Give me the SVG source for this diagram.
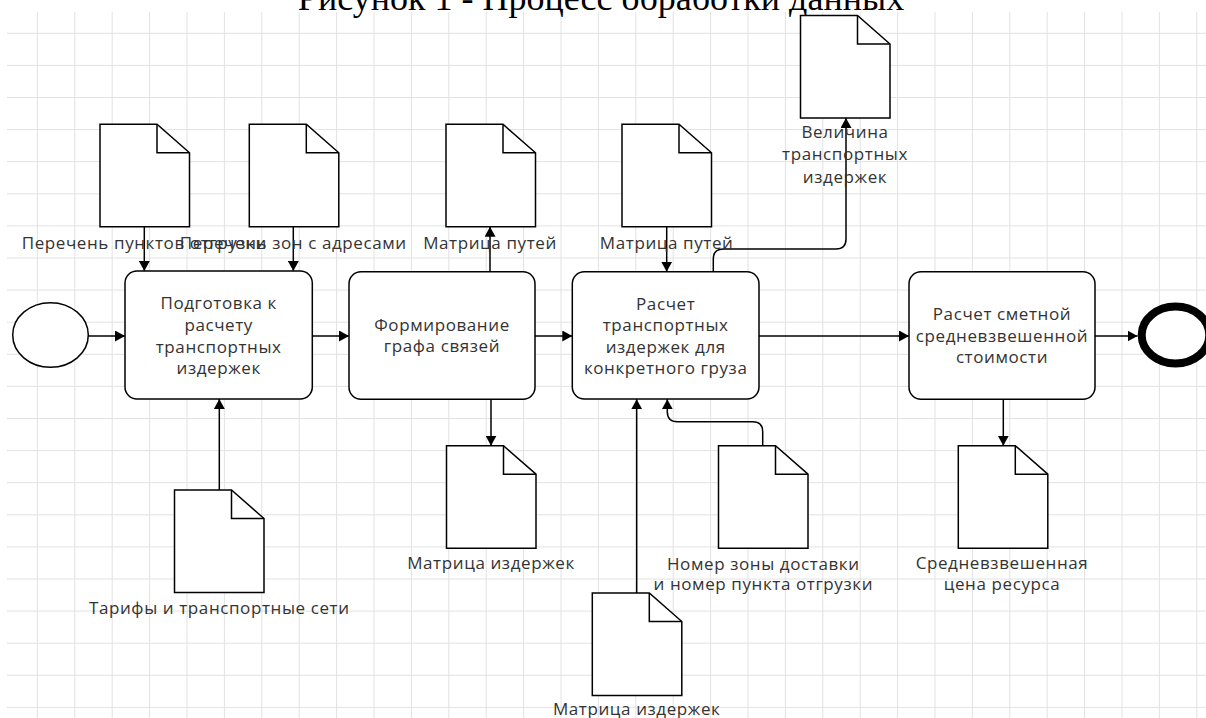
<svg xmlns="http://www.w3.org/2000/svg" width="1206" height="718" viewBox="0 0 1206 718">
<style>
.grid line{stroke:#e2e2e2;stroke-width:1}
.box{fill:#fff;stroke:#000;stroke-width:1.5}
.doc{fill:#fff;stroke:#000;stroke-width:1.5;stroke-linejoin:miter}
.fold{fill:none;stroke:#000;stroke-width:1.5}
.t{font-family:"Open Sans","Noto Sans",sans-serif;font-size:17px;letter-spacing:0.6px;fill:#333;text-anchor:middle}
.conn path{fill:none;stroke:#000;stroke-width:1.5}
.title{font-family:"Liberation Serif","Times New Roman",serif;font-size:36px;fill:#000;text-anchor:middle}
</style>
<defs>
<marker id="ah" markerUnits="userSpaceOnUse" markerWidth="11" markerHeight="11" refX="10" refY="5.5" orient="auto">
<path d="M0,0 L10,5.5 L0,11 Z" fill="#000"/>
</marker>
<symbol id="docshape" overflow="visible">
<path class="doc" d="M0,0 H57 L89.5,28.5 V102.5 H0 Z"/>
<path class="fold" d="M57,0 V28.5 H89.5"/>
</symbol>
</defs>
<rect width="1206" height="718" fill="#fff"/>
<g class="grid">
<line x1="37.4" y1="12" x2="37.4" y2="718"/><line x1="74.8" y1="12" x2="74.8" y2="718"/><line x1="112.2" y1="12" x2="112.2" y2="718"/><line x1="149.6" y1="12" x2="149.6" y2="718"/><line x1="187" y1="12" x2="187" y2="718"/><line x1="224.4" y1="12" x2="224.4" y2="718"/><line x1="261.8" y1="12" x2="261.8" y2="718"/><line x1="299.2" y1="12" x2="299.2" y2="718"/><line x1="336.6" y1="12" x2="336.6" y2="718"/><line x1="374" y1="12" x2="374" y2="718"/><line x1="411.4" y1="12" x2="411.4" y2="718"/><line x1="448.8" y1="12" x2="448.8" y2="718"/><line x1="486.2" y1="12" x2="486.2" y2="718"/><line x1="523.6" y1="12" x2="523.6" y2="718"/><line x1="561" y1="12" x2="561" y2="718"/><line x1="598.4" y1="12" x2="598.4" y2="718"/><line x1="635.8" y1="12" x2="635.8" y2="718"/><line x1="673.2" y1="12" x2="673.2" y2="718"/><line x1="710.6" y1="12" x2="710.6" y2="718"/><line x1="748" y1="12" x2="748" y2="718"/><line x1="785.4" y1="12" x2="785.4" y2="718"/><line x1="822.8" y1="12" x2="822.8" y2="718"/><line x1="860.2" y1="12" x2="860.2" y2="718"/><line x1="897.6" y1="12" x2="897.6" y2="718"/><line x1="935" y1="12" x2="935" y2="718"/><line x1="972.4" y1="12" x2="972.4" y2="718"/><line x1="1009.8" y1="12" x2="1009.8" y2="718"/><line x1="1047.2" y1="12" x2="1047.2" y2="718"/><line x1="1084.6" y1="12" x2="1084.6" y2="718"/><line x1="1122" y1="12" x2="1122" y2="718"/><line x1="1159.4" y1="12" x2="1159.4" y2="718"/><line x1="1196.8" y1="12" x2="1196.8" y2="718"/>
<line x1="7" y1="33.3" x2="1206" y2="33.3"/><line x1="7" y1="65.4" x2="1206" y2="65.4"/><line x1="7" y1="97.5" x2="1206" y2="97.5"/><line x1="7" y1="129.6" x2="1206" y2="129.6"/><line x1="7" y1="161.7" x2="1206" y2="161.7"/><line x1="7" y1="193.8" x2="1206" y2="193.8"/><line x1="7" y1="225.9" x2="1206" y2="225.9"/><line x1="7" y1="258" x2="1206" y2="258"/><line x1="7" y1="290.1" x2="1206" y2="290.1"/><line x1="7" y1="322.2" x2="1206" y2="322.2"/><line x1="7" y1="354.3" x2="1206" y2="354.3"/><line x1="7" y1="386.4" x2="1206" y2="386.4"/><line x1="7" y1="418.5" x2="1206" y2="418.5"/><line x1="7" y1="450.6" x2="1206" y2="450.6"/><line x1="7" y1="482.7" x2="1206" y2="482.7"/><line x1="7" y1="514.8" x2="1206" y2="514.8"/><line x1="7" y1="546.9" x2="1206" y2="546.9"/><line x1="7" y1="579" x2="1206" y2="579"/><line x1="7" y1="611.1" x2="1206" y2="611.1"/><line x1="7" y1="643.2" x2="1206" y2="643.2"/><line x1="7" y1="675.3" x2="1206" y2="675.3"/><line x1="7" y1="707.4" x2="1206" y2="707.4"/>
</g>
<text class="title" x="601" y="10">Рисунок 1 - Процесс обработки данных</text>

<g class="conn">
<path d="M88.3,336 H125" marker-end="url(#ah)"/>
<path d="M144.3,226.8 V271" marker-end="url(#ah)"/>
<path d="M293.3,226.8 V271" marker-end="url(#ah)"/>
<path d="M219.3,490 V399" marker-end="url(#ah)"/>
<path d="M312.3,336 H349" marker-end="url(#ah)"/>
<path d="M490,271.7 V226.8" marker-end="url(#ah)"/>
<path d="M491,399.3 V445.7" marker-end="url(#ah)"/>
<path d="M535,336 H572.3" marker-end="url(#ah)"/>
<path d="M666.7,226.8 V271.7" marker-end="url(#ah)"/>
<path d="M713.3,271.7 V259 Q713.3,249 723.3,249 H836 Q846,249 846,239 V118" marker-end="url(#ah)"/>
<path d="M636.7,593 V399.3" marker-end="url(#ah)"/>
<path d="M762.7,445.7 V431.7 Q762.7,421.7 752.7,421.7 H677.3 Q667.3,421.7 667.3,411.7 V399.3" marker-end="url(#ah)"/>
<path d="M759,336 H909" marker-end="url(#ah)"/>
<path d="M1003.3,399.3 V445.7" marker-end="url(#ah)"/>
<path d="M1095,336 H1137.5" marker-end="url(#ah)"/>
</g>

<g id="start"><ellipse cx="50.5" cy="335" rx="37.8" ry="32.3" fill="#fff" stroke="#000" stroke-width="1.5"/></g>
<g id="end"><ellipse cx="1175.5" cy="335" rx="33.8" ry="28.5" fill="#fff" stroke="#000" stroke-width="8"/></g>

<g id="box1"><rect class="box" x="125" y="271" width="187.3" height="128" rx="12"/>
<text class="t" x="218.7" y="309">Подготовка к</text><text class="t" x="218.7" y="330.5">расчету</text><text class="t" x="218.7" y="352.5">транспортных</text><text class="t" x="218.7" y="374">издержек</text></g>
<g id="box2"><rect class="box" x="349" y="271.7" width="186" height="127.6" rx="12"/>
<text class="t" x="442" y="331">Формирование</text><text class="t" x="442" y="352">графа связей</text></g>
<g id="box3"><rect class="box" x="572.3" y="271.7" width="186.7" height="127.3" rx="12"/>
<text class="t" x="665.7" y="310">Расчет</text><text class="t" x="665.7" y="331.3">транспортных</text><text class="t" x="665.7" y="352.7">издержек для</text><text class="t" x="665.7" y="374">конкретного груза</text></g>
<g id="box4"><rect class="box" x="909" y="271.7" width="186" height="127.6" rx="12"/>
<text class="t" x="1002" y="320">Расчет сметной</text><text class="t" x="1002" y="342">средневзвешенной</text><text class="t" x="1002" y="363.3">стоимости</text></g>

<g id="doc1"><use href="#docshape" x="100" y="124.3"/><text class="t" x="144.3" y="248.7">Перечень пунктов отгрузки</text></g>
<g id="doc2"><use href="#docshape" x="249.3" y="124.3"/><text class="t" x="293.3" y="248.7">Перечень зон с адресами</text></g>
<g id="doc3"><use href="#docshape" x="446" y="124.3"/><text class="t" x="490" y="248.5">Матрица путей</text></g>
<g id="doc4"><use href="#docshape" x="622" y="124.3"/><text class="t" x="666.7" y="248.5">Матрица путей</text></g>
<g id="doc5"><use href="#docshape" x="800.5" y="15.5"/><text class="t" x="845" y="138.3">Величина</text><text class="t" x="845" y="160">транспортных</text><text class="t" x="845" y="182.7">издержек</text></g>
<g id="doc6"><use href="#docshape" x="174.5" y="490"/><text class="t" x="219.3" y="614.3">Тарифы и транспортные сети</text></g>
<g id="doc7"><use href="#docshape" x="446.5" y="445.7"/><text class="t" x="491" y="569.3">Матрица издержек</text></g>
<g id="doc8"><use href="#docshape" x="718.5" y="445.7"/><text class="t" x="763.3" y="570">Номер зоны доставки</text><text class="t" x="763.3" y="590.3">и номер пункта отгрузки</text></g>
<g id="doc9"><use href="#docshape" x="592.3" y="593"/><text class="t" x="636.7" y="715.3">Матрица издержек</text></g>
<g id="doc10"><use href="#docshape" x="958.3" y="445.7"/><text class="t" x="1002" y="569.3">Средневзвешенная</text><text class="t" x="1002" y="590">цена ресурса</text></g>
</svg>
